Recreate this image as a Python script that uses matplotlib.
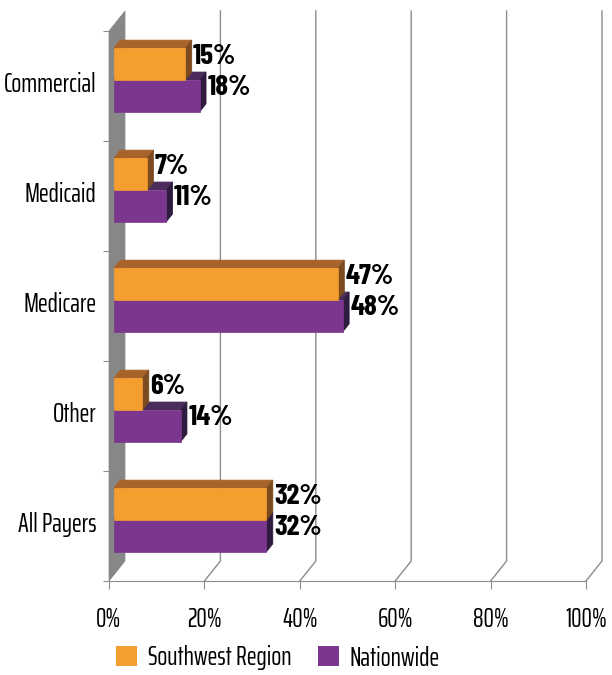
import matplotlib.pyplot as plt
from matplotlib.patches import Polygon, Patch

# Data
categories = ['Commercial', 'Medicaid', 'Medicare', 'Other', 'All Payers']
southwest = [15, 7, 47, 6, 32]
nationwide = [18, 11, 48, 14, 32]
series_names = ['Southwest Region', 'Nationwide']
xticks = [0, 20, 40, 60, 80, 100]
xtick_labels = ['0%', '20%', '40%', '60%', '80%', '100%']

# colours: front, top, side
orange = ('#F39E2F', '#A8632A', '#7B4A1E')
purple = ('#7B378E', '#4B2C5C', '#2F1B3D')
grid_col = '#8C8C8C'

plt.rcParams['font.family'] = ['Saira ExtraCondensed', 'DejaVu Sans']
plt.rcParams['font.weight'] = 400
value_font = ['Barlow Condensed', 'DejaVu Sans']

fig = plt.figure(figsize=(6.12, 6.75), dpi=100)
ax = fig.add_axes([109 / 612, 1 - 581 / 675, 477 / 612, 550 / 675])
ax.set_xlim(0, 100)
ax.set_ylim(0, 5)

# depth vector (full depth) in data units
DX = 16 / 4.77
DY = 20 / 110
d1, d2 = 0.3, 0.7
h = 0.29
n = len(categories)

# back wall gridlines + floor diagonals
for x in xticks[1:]:
    ax.plot([x, x + DX, x + DX], [0, DY, 5 + DY], color=grid_col, lw=1,
            clip_on=False, zorder=1)

# left gray wall
ax.add_patch(Polygon([(0, 0), (DX, DY), (DX, 5 + DY), (0, 5)],
                     closed=True, facecolor='#878787', edgecolor='#878787',
                     lw=0.5, clip_on=False, zorder=2))


def bar3d(y0, value, cols):
    x0f = d1 * DX
    y0f = y0 + d1 * DY
    ox = (d2 - d1) * DX
    oy = (d2 - d1) * DY
    front = [(x0f, y0f), (x0f + value, y0f), (x0f + value, y0f + h), (x0f, y0f + h)]
    top = [(x0f, y0f + h), (x0f + value, y0f + h),
           (x0f + value + ox, y0f + h + oy), (x0f + ox, y0f + h + oy)]
    side = [(x0f + value, y0f), (x0f + value + ox, y0f + oy),
            (x0f + value + ox, y0f + h + oy), (x0f + value, y0f + h)]
    for poly, c in ((top, cols[1]), (side, cols[2]), (front, cols[0])):
        ax.add_patch(Polygon(poly, closed=True, facecolor=c, edgecolor=c,
                             lw=0.5, clip_on=False, zorder=3))
    return x0f + value + ox, y0f + oy + h / 2


for i, cat in enumerate(categories):
    yc = n - i - 0.5
    # purple drawn first (lower), orange above
    xe, ym = bar3d(yc - h, nationwide[i], purple)
    ax.text(xe + 0.3, ym, f'{nationwide[i]}%', fontsize=21, fontweight=700,
            family=value_font, va='center', ha='left', zorder=5)
    xe, ym = bar3d(yc, southwest[i], orange)
    ax.text(xe + 0.3, ym, f'{southwest[i]}%', fontsize=21, fontweight=700,
            family=value_font, va='center', ha='left', zorder=5)

# axes styling
for s in ['top', 'right', 'left']:
    ax.spines[s].set_visible(False)
ax.spines['bottom'].set_color(grid_col)
ax.spines['bottom'].set_zorder(4)
ax.set_xticks(xticks)
ax.set_xticklabels(xtick_labels, fontsize=19)
ax.tick_params(axis='x', direction='out', length=6, color=grid_col, pad=13)

ax.set_yticks(range(n + 1))
ax.set_yticklabels([])
ax.tick_params(axis='y', which='major', direction='out', length=4.5,
               color=grid_col)
ax.set_yticks([n - i - 0.5 + 0.04 for i in range(n)], minor=True)
ax.set_yticklabels(categories, minor=True, fontsize=19)
ax.tick_params(axis='y', which='minor', length=0, pad=9)

handles = [Patch(facecolor=orange[0], edgecolor='none'),
           Patch(facecolor=purple[0], edgecolor='none')]
fig.legend(handles, series_names, loc='center', ncol=2, frameon=False,
           bbox_to_anchor=(278 / 612, 1 - 658 / 675), fontsize=19,
           handlelength=0.8, handleheight=0.8, handletextpad=0.4,
           columnspacing=1.0)

fig.savefig('out.png', dpi=100)
